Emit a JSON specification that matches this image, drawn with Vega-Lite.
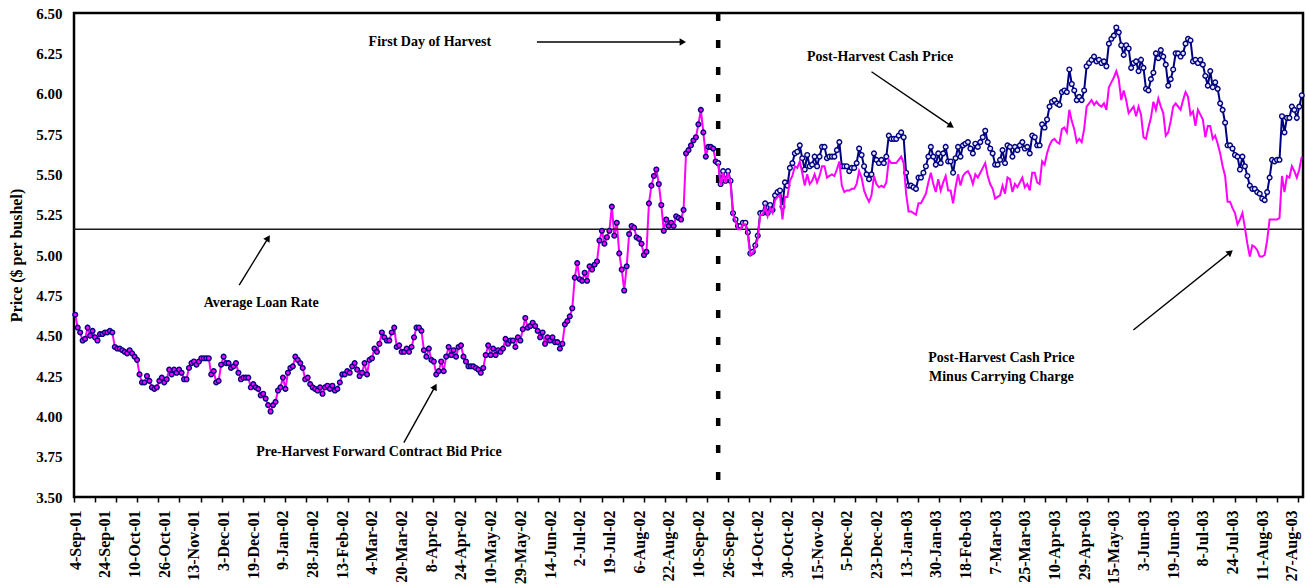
{
"$schema": "https://vega.github.io/schema/vega-lite/v6.json",
"width": 1229, "height": 484,
"autosize": {"type": "none"},
"padding": {"left": 74, "top": 13, "right": 4, "bottom": 87},
"background": "white",
"config": {"view": {"stroke": "black", "strokeWidth": 2.5}, "font": "Liberation Serif"},
"resolve": {"axis": {"x": "independent"}},
"datasets": {
"pre": [
{"n":0,"price":4.63},{"n":1,"price":4.55},{"n":2,"price":4.52},{"n":3,"price":4.47},{"n":4,"price":4.48},{"n":5,"price":4.55},{"n":6,"price":4.50},{"n":7,"price":4.53},{"n":8,"price":4.49},{"n":9,"price":4.47},
{"n":10,"price":4.51},{"n":11,"price":4.51},{"n":12,"price":4.52},{"n":13,"price":4.52},{"n":14,"price":4.53},{"n":15,"price":4.52},{"n":16,"price":4.43},{"n":17,"price":4.42},{"n":18,"price":4.42},{"n":19,"price":4.41},
{"n":20,"price":4.40},{"n":21,"price":4.39},{"n":22,"price":4.41},{"n":23,"price":4.39},{"n":24,"price":4.37},{"n":25,"price":4.35},{"n":26,"price":4.26},{"n":27,"price":4.21},{"n":28,"price":4.21},{"n":29,"price":4.25},
{"n":30,"price":4.22},{"n":31,"price":4.18},{"n":32,"price":4.17},{"n":33,"price":4.18},{"n":34,"price":4.22},{"n":35,"price":4.24},{"n":36,"price":4.21},{"n":37,"price":4.23},{"n":38,"price":4.29},{"n":39,"price":4.26},
{"n":40,"price":4.29},{"n":41,"price":4.27},{"n":42,"price":4.29},{"n":43,"price":4.27},{"n":44,"price":4.23},{"n":45,"price":4.23},{"n":46,"price":4.30},{"n":47,"price":4.33},{"n":48,"price":4.34},{"n":49,"price":4.32},
{"n":50,"price":4.34},{"n":51,"price":4.36},{"n":52,"price":4.36},{"n":53,"price":4.36},{"n":54,"price":4.36},{"n":55,"price":4.26},{"n":56,"price":4.28},{"n":57,"price":4.21},{"n":58,"price":4.22},{"n":59,"price":4.32},
{"n":60,"price":4.37},{"n":61,"price":4.33},{"n":62,"price":4.33},{"n":63,"price":4.30},{"n":64,"price":4.31},{"n":65,"price":4.33},{"n":66,"price":4.27},{"n":67,"price":4.23},{"n":68,"price":4.24},{"n":69,"price":4.24},
{"n":70,"price":4.24},{"n":71,"price":4.18},{"n":72,"price":4.20},{"n":73,"price":4.18},{"n":74,"price":4.17},{"n":75,"price":4.13},{"n":76,"price":4.14},{"n":77,"price":4.11},{"n":78,"price":4.07},{"n":79,"price":4.03},
{"n":80,"price":4.07},{"n":81,"price":4.09},{"n":82,"price":4.16},{"n":83,"price":4.18},{"n":84,"price":4.24},{"n":85,"price":4.17},{"n":86,"price":4.27},{"n":87,"price":4.30},{"n":88,"price":4.31},{"n":89,"price":4.37},
{"n":90,"price":4.35},{"n":91,"price":4.33},{"n":92,"price":4.30},{"n":93,"price":4.23},{"n":94,"price":4.24},{"n":95,"price":4.20},{"n":96,"price":4.18},{"n":97,"price":4.17},{"n":98,"price":4.16},{"n":99,"price":4.18},
{"n":100,"price":4.14},{"n":101,"price":4.18},{"n":102,"price":4.19},{"n":103,"price":4.17},{"n":104,"price":4.19},{"n":105,"price":4.16},{"n":106,"price":4.17},{"n":107,"price":4.21},{"n":108,"price":4.26},{"n":109,"price":4.26},
{"n":110,"price":4.28},{"n":111,"price":4.27},{"n":112,"price":4.31},{"n":113,"price":4.33},{"n":114,"price":4.29},{"n":115,"price":4.25},{"n":116,"price":4.27},{"n":117,"price":4.33},{"n":118,"price":4.26},{"n":119,"price":4.35},
{"n":120,"price":4.36},{"n":121,"price":4.42},{"n":122,"price":4.40},{"n":123,"price":4.45},{"n":124,"price":4.52},{"n":125,"price":4.49},{"n":126,"price":4.47},{"n":127,"price":4.47},{"n":128,"price":4.52},{"n":129,"price":4.55},
{"n":130,"price":4.43},{"n":131,"price":4.44},{"n":132,"price":4.40},{"n":133,"price":4.40},{"n":134,"price":4.42},{"n":135,"price":4.40},{"n":136,"price":4.43},{"n":137,"price":4.49},{"n":138,"price":4.55},{"n":139,"price":4.55},
{"n":140,"price":4.53},{"n":141,"price":4.41},{"n":142,"price":4.37},{"n":143,"price":4.42},{"n":144,"price":4.35},{"n":145,"price":4.34},{"n":146,"price":4.26},{"n":147,"price":4.28},{"n":148,"price":4.34},{"n":149,"price":4.28},
{"n":150,"price":4.37},{"n":151,"price":4.43},{"n":152,"price":4.38},{"n":153,"price":4.41},{"n":154,"price":4.37},{"n":155,"price":4.43},{"n":156,"price":4.44},{"n":157,"price":4.37},{"n":158,"price":4.34},{"n":159,"price":4.31},
{"n":160,"price":4.31},{"n":161,"price":4.31},{"n":162,"price":4.30},{"n":163,"price":4.29},{"n":164,"price":4.27},{"n":165,"price":4.30},{"n":166,"price":4.38},{"n":167,"price":4.44},{"n":168,"price":4.38},{"n":169,"price":4.42},
{"n":170,"price":4.38},{"n":171,"price":4.41},{"n":172,"price":4.40},{"n":173,"price":4.42},{"n":174,"price":4.48},{"n":175,"price":4.45},{"n":176,"price":4.47},{"n":177,"price":4.47},{"n":178,"price":4.43},{"n":179,"price":4.49},
{"n":180,"price":4.47},{"n":181,"price":4.54},{"n":182,"price":4.61},{"n":183,"price":4.55},{"n":184,"price":4.56},{"n":185,"price":4.58},{"n":186,"price":4.56},{"n":187,"price":4.53},{"n":188,"price":4.49},{"n":189,"price":4.52},
{"n":190,"price":4.45},{"n":191,"price":4.49},{"n":192,"price":4.47},{"n":193,"price":4.49},{"n":194,"price":4.46},{"n":195,"price":4.46},{"n":196,"price":4.42},{"n":197,"price":4.45},{"n":198,"price":4.57},{"n":199,"price":4.59},
{"n":200,"price":4.62},{"n":201,"price":4.67},{"n":202,"price":4.86},{"n":203,"price":4.95},{"n":204,"price":4.85},{"n":205,"price":4.84},{"n":206,"price":4.89},{"n":207,"price":4.84},{"n":208,"price":4.93},{"n":209,"price":4.91},
{"n":210,"price":4.94},{"n":211,"price":4.96},{"n":212,"price":5.09},{"n":213,"price":5.15},{"n":214,"price":5.07},{"n":215,"price":5.11},{"n":216,"price":5.15},{"n":217,"price":5.30},{"n":218,"price":5.12},{"n":219,"price":5.20},
{"n":220,"price":5.01},{"n":221,"price":4.91},{"n":222,"price":4.78},{"n":223,"price":4.93},{"n":224,"price":5.13},{"n":225,"price":5.18},{"n":226,"price":5.17},{"n":227,"price":5.11},{"n":228,"price":5.10},{"n":229,"price":5.07},
{"n":230,"price":5.00},{"n":231,"price":5.02},{"n":232,"price":5.32},{"n":233,"price":5.43},{"n":234,"price":5.49},{"n":235,"price":5.53},{"n":236,"price":5.44},{"n":237,"price":5.31},{"n":238,"price":5.15},{"n":239,"price":5.22},
{"n":240,"price":5.18},{"n":241,"price":5.20},{"n":242,"price":5.18},{"n":243,"price":5.24},{"n":244,"price":5.23},{"n":245,"price":5.22},{"n":246,"price":5.28},{"n":247,"price":5.63},{"n":248,"price":5.65},{"n":249,"price":5.68},
{"n":250,"price":5.71},{"n":251,"price":5.73},{"n":252,"price":5.81},{"n":253,"price":5.90},{"n":254,"price":5.76},{"n":255,"price":5.61},{"n":256,"price":5.67},{"n":257,"price":5.67},{"n":258,"price":5.66},{"n":259,"price":5.58},
{"n":260,"price":5.57}
],
"post": [
{"n":260,"cash":5.57,"net":5.57},{"n":261,"cash":5.44,"net":5.43},{"n":262,"cash":5.52,"net":5.51},{"n":263,"cash":5.46,"net":5.45},{"n":264,"cash":5.52,"net":5.51},{"n":265,"cash":5.46,"net":5.45},{"n":266,"cash":5.26,"net":5.25},{"n":267,"cash":5.22,"net":5.21},{"n":268,"cash":5.18,"net":5.16},{"n":269,"cash":5.18,"net":5.16},
{"n":270,"cash":5.20,"net":5.19},{"n":271,"cash":5.20,"net":5.19},{"n":272,"cash":5.14,"net":5.12},{"n":273,"cash":5.01,"net":5.00},{"n":274,"cash":5.02,"net":5.01},{"n":275,"cash":5.06,"net":5.05},{"n":276,"cash":5.12,"net":5.10},{"n":277,"cash":5.26,"net":5.25},{"n":278,"cash":5.26,"net":5.25},{"n":279,"cash":5.32,"net":5.30},
{"n":280,"cash":5.26,"net":5.24},{"n":281,"cash":5.31,"net":5.29},{"n":282,"cash":5.28,"net":5.26},{"n":283,"cash":5.37,"net":5.34},{"n":284,"cash":5.39,"net":5.36},{"n":285,"cash":5.40,"net":5.37},{"n":286,"cash":5.30,"net":5.22},{"n":287,"cash":5.45,"net":5.36},{"n":288,"cash":5.43,"net":5.36},{"n":289,"cash":5.54,"net":5.46},
{"n":290,"cash":5.57,"net":5.49},{"n":291,"cash":5.63,"net":5.55},{"n":292,"cash":5.64,"net":5.54},{"n":293,"cash":5.68,"net":5.58},{"n":294,"cash":5.60,"net":5.51},{"n":295,"cash":5.53,"net":5.43},{"n":296,"cash":5.62,"net":5.50},{"n":297,"cash":5.55,"net":5.44},{"n":298,"cash":5.56,"net":5.46},{"n":299,"cash":5.61,"net":5.50},
{"n":300,"cash":5.55,"net":5.45},{"n":301,"cash":5.61,"net":5.49},{"n":302,"cash":5.67,"net":5.55},{"n":303,"cash":5.67,"net":5.55},{"n":304,"cash":5.60,"net":5.48},{"n":305,"cash":5.61,"net":5.49},{"n":306,"cash":5.61,"net":5.50},{"n":307,"cash":5.61,"net":5.49},{"n":308,"cash":5.65,"net":5.53},{"n":309,"cash":5.70,"net":5.58},
{"n":310,"cash":5.55,"net":5.43},{"n":311,"cash":5.55,"net":5.39},{"n":312,"cash":5.55,"net":5.40},{"n":313,"cash":5.52,"net":5.40},{"n":314,"cash":5.54,"net":5.41},{"n":315,"cash":5.54,"net":5.41},{"n":316,"cash":5.57,"net":5.44},{"n":317,"cash":5.66,"net":5.52},{"n":318,"cash":5.62,"net":5.48},{"n":319,"cash":5.55,"net":5.40},
{"n":320,"cash":5.50,"net":5.36},{"n":321,"cash":5.47,"net":5.33},{"n":322,"cash":5.50,"net":5.37},{"n":323,"cash":5.63,"net":5.49},{"n":324,"cash":5.59,"net":5.44},{"n":325,"cash":5.57,"net":5.42},{"n":326,"cash":5.59,"net":5.43},{"n":327,"cash":5.57,"net":5.42},{"n":328,"cash":5.61,"net":5.45},{"n":329,"cash":5.74,"net":5.59},
{"n":330,"cash":5.72,"net":5.57},{"n":331,"cash":5.72,"net":5.57},{"n":332,"cash":5.72,"net":5.57},{"n":333,"cash":5.74,"net":5.59},{"n":334,"cash":5.76,"net":5.61},{"n":335,"cash":5.73,"net":5.57},{"n":336,"cash":5.51,"net":5.38},{"n":337,"cash":5.43,"net":5.27},{"n":338,"cash":5.43,"net":5.27},{"n":339,"cash":5.42,"net":5.26},
{"n":340,"cash":5.41,"net":5.25},{"n":341,"cash":5.48,"net":5.32},{"n":342,"cash":5.48,"net":5.32},{"n":343,"cash":5.51,"net":5.35},{"n":344,"cash":5.55,"net":5.38},{"n":345,"cash":5.61,"net":5.45},{"n":346,"cash":5.67,"net":5.51},{"n":347,"cash":5.61,"net":5.44},{"n":348,"cash":5.56,"net":5.39},{"n":349,"cash":5.63,"net":5.47},
{"n":350,"cash":5.57,"net":5.40},{"n":351,"cash":5.63,"net":5.45},{"n":352,"cash":5.67,"net":5.49},{"n":353,"cash":5.58,"net":5.40},{"n":354,"cash":5.58,"net":5.40},{"n":355,"cash":5.51,"net":5.32},{"n":356,"cash":5.60,"net":5.42},{"n":357,"cash":5.67,"net":5.50},{"n":358,"cash":5.61,"net":5.43},{"n":359,"cash":5.68,"net":5.49},
{"n":360,"cash":5.69,"net":5.51},{"n":361,"cash":5.70,"net":5.52},{"n":362,"cash":5.66,"net":5.49},{"n":363,"cash":5.63,"net":5.44},{"n":364,"cash":5.69,"net":5.50},{"n":365,"cash":5.67,"net":5.48},{"n":366,"cash":5.70,"net":5.51},{"n":367,"cash":5.73,"net":5.54},{"n":368,"cash":5.77,"net":5.57},{"n":369,"cash":5.70,"net":5.49},
{"n":370,"cash":5.66,"net":5.44},{"n":371,"cash":5.63,"net":5.41},{"n":372,"cash":5.56,"net":5.35},{"n":373,"cash":5.56,"net":5.36},{"n":374,"cash":5.59,"net":5.37},{"n":375,"cash":5.65,"net":5.43},{"n":376,"cash":5.57,"net":5.38},{"n":377,"cash":5.68,"net":5.48},{"n":378,"cash":5.67,"net":5.47},{"n":379,"cash":5.61,"net":5.39},
{"n":380,"cash":5.67,"net":5.44},{"n":381,"cash":5.65,"net":5.42},{"n":382,"cash":5.68,"net":5.45},{"n":383,"cash":5.70,"net":5.48},{"n":384,"cash":5.66,"net":5.42},{"n":385,"cash":5.67,"net":5.44},{"n":386,"cash":5.63,"net":5.40},{"n":387,"cash":5.74,"net":5.51},{"n":388,"cash":5.73,"net":5.51},{"n":389,"cash":5.68,"net":5.45},
{"n":390,"cash":5.68,"net":5.44},{"n":391,"cash":5.81,"net":5.58},{"n":392,"cash":5.79,"net":5.56},{"n":393,"cash":5.84,"net":5.63},{"n":394,"cash":5.92,"net":5.68},{"n":395,"cash":5.95,"net":5.71},{"n":396,"cash":5.96,"net":5.72},{"n":397,"cash":5.94,"net":5.70},{"n":398,"cash":5.93,"net":5.69},{"n":399,"cash":6.01,"net":5.78},
{"n":400,"cash":6.02,"net":5.79},{"n":401,"cash":6.01,"net":5.76},{"n":402,"cash":6.15,"net":5.90},{"n":403,"cash":6.06,"net":5.83},{"n":404,"cash":6.02,"net":5.78},{"n":405,"cash":5.96,"net":5.70},{"n":406,"cash":5.98,"net":5.72},{"n":407,"cash":5.96,"net":5.70},{"n":408,"cash":6.02,"net":5.78},{"n":409,"cash":6.17,"net":5.92},
{"n":410,"cash":6.19,"net":5.94},{"n":411,"cash":6.21,"net":5.96},{"n":412,"cash":6.23,"net":5.93},{"n":413,"cash":6.20,"net":5.95},{"n":414,"cash":6.21,"net":5.93},{"n":415,"cash":6.19,"net":5.92},{"n":416,"cash":6.20,"net":5.94},{"n":417,"cash":6.17,"net":5.90},{"n":418,"cash":6.31,"net":6.04},{"n":419,"cash":6.34,"net":6.07},
{"n":420,"cash":6.36,"net":6.10},{"n":421,"cash":6.41,"net":6.14},{"n":422,"cash":6.38,"net":6.09},{"n":423,"cash":6.30,"net":5.96},{"n":424,"cash":6.24,"net":6.02},{"n":425,"cash":6.30,"net":5.96},{"n":426,"cash":6.28,"net":5.88},{"n":427,"cash":6.16,"net":5.90},{"n":428,"cash":6.19,"net":5.92},{"n":429,"cash":6.20,"net":5.86},
{"n":430,"cash":6.14,"net":5.92},{"n":431,"cash":6.21,"net":5.87},{"n":432,"cash":6.16,"net":5.73},{"n":433,"cash":6.03,"net":5.72},{"n":434,"cash":6.02,"net":5.79},{"n":435,"cash":6.09,"net":5.85},{"n":436,"cash":6.13,"net":5.95},{"n":437,"cash":6.25,"net":5.90},{"n":438,"cash":6.22,"net":5.97},{"n":439,"cash":6.27,"net":5.92},
{"n":440,"cash":6.23,"net":5.88},{"n":441,"cash":6.18,"net":5.74},{"n":442,"cash":6.05,"net":5.76},{"n":443,"cash":6.09,"net":5.83},{"n":444,"cash":6.15,"net":5.92},{"n":445,"cash":6.25,"net":5.94},{"n":446,"cash":6.25,"net":5.92},{"n":447,"cash":6.23,"net":5.90},{"n":448,"cash":6.25,"net":5.96},{"n":449,"cash":6.31,"net":6.01},
{"n":450,"cash":6.34,"net":5.98},{"n":451,"cash":6.33,"net":5.87},{"n":452,"cash":6.20,"net":5.89},{"n":453,"cash":6.21,"net":5.80},{"n":454,"cash":6.19,"net":5.90},{"n":455,"cash":6.21,"net":5.87},{"n":456,"cash":6.18,"net":5.84},{"n":457,"cash":6.11,"net":5.73},{"n":458,"cash":6.05,"net":5.80},{"n":459,"cash":6.14,"net":5.80},
{"n":460,"cash":6.04,"net":5.72},{"n":461,"cash":6.07,"net":5.74},{"n":462,"cash":6.03,"net":5.69},{"n":463,"cash":5.94,"net":5.63},{"n":464,"cash":5.90,"net":5.55},{"n":465,"cash":5.82,"net":5.49},{"n":466,"cash":5.68,"net":5.33},{"n":467,"cash":5.68,"net":5.33},{"n":468,"cash":5.66,"net":5.29},{"n":469,"cash":5.62,"net":5.26},
{"n":470,"cash":5.61,"net":5.19},{"n":471,"cash":5.53,"net":5.22},{"n":472,"cash":5.61,"net":5.26},{"n":473,"cash":5.55,"net":5.17},{"n":474,"cash":5.49,"net":5.07},{"n":475,"cash":5.43,"net":4.99},{"n":476,"cash":5.41,"net":5.06},{"n":477,"cash":5.41,"net":5.05},{"n":478,"cash":5.39,"net":5.03},{"n":479,"cash":5.38,"net":4.99},
{"n":480,"cash":5.35,"net":4.99},{"n":481,"cash":5.34,"net":5.00},{"n":482,"cash":5.39,"net":5.09},{"n":483,"cash":5.48,"net":5.22},{"n":484,"cash":5.59,"net":5.22},{"n":485,"cash":5.58,"net":5.22},{"n":486,"cash":5.59,"net":5.22},{"n":487,"cash":5.59,"net":5.23},{"n":488,"cash":5.86,"net":5.49},{"n":489,"cash":5.76,"net":5.39},
{"n":490,"cash":5.85,"net":5.49},{"n":491,"cash":5.85,"net":5.48},{"n":492,"cash":5.92,"net":5.55},{"n":493,"cash":5.90,"net":5.52},{"n":494,"cash":5.85,"net":5.48},{"n":495,"cash":5.92,"net":5.53},{"n":496,"cash":5.99,"net":5.61}
],
"loan": [{"rate": 5.16}],
"harvest": [{"n": 260}],
"notes": [
{"label": "First Day of Harvest", "n": 143.4, "price": 6.32},
{"label": "Post-Harvest Cash Price", "n": 325.5, "price": 6.23},
{"label": "Average Loan Rate", "n": 75.2, "price": 4.70},
{"label": "Pre-Harvest Forward Contract Bid Price", "n": 122.8, "price": 3.78},
{"label": "Post-Harvest Cash Price\nMinus Carrying Charge", "n": 374.5, "price": 4.36}
],
"arrows": [
{"id": "harvest", "n": 186.7, "price": 6.32, "n2": 245.7, "price2": 6.32},
{"id": "cash", "n": 322.0, "price": 6.136, "n2": 354.2, "price2": 5.80},
{"id": "loan", "n": 66.3, "price": 4.814, "n2": 78.0, "price2": 5.105},
{"id": "pre", "n": 132.9, "price": 3.837, "n2": 145.5, "price2": 4.184},
{"id": "net", "n": 427.9, "price": 4.535, "n2": 467.1, "price2": 5.017}
]
},
"layer": [
{
"data": {"name": "pre"},
"mark": {"type": "line", "color": "#FF00FF", "strokeWidth": 2},
"encoding": {
"x": {"field": "n", "type": "quantitative", "scale": {"domain": [-0.5, 496.5], "nice": false, "zero": false},
"axis": {
"orient": "bottom",
"values": [0,12,24,36,48,60,72,84,96,108,120,132,144,156,168,180,192,204,216,228,240,252,264,276,288,300,312,324,336,348,360,372,384,396,408,420,432,444,456,468,480,492],
"labelExpr": "['4-Sep-01','24-Sep-01','10-Oct-01','26-Oct-01','13-Nov-01','3-Dec-01','19-Dec-01','9-Jan-02','28-Jan-02','13-Feb-02','4-Mar-02','20-Mar-02','8-Apr-02','24-Apr-02','10-May-02','29-May-02','14-Jun-02','2-Jul-02','19-Jul-02','6-Aug-02','22-Aug-02','10-Sep-02','26-Sep-02','14-Oct-02','30-Oct-02','15-Nov-02','5-Dec-02','23-Dec-02','13-Jan-03','30-Jan-03','18-Feb-03','7-Mar-03','25-Mar-03','10-Apr-03','29-Apr-03','15-May-03','3-Jun-03','19-Jun-03','8-Jul-03','24-Jul-03','11-Aug-03','27-Aug-03'][round(datum.value / 12)]",
"labelAngle": 270, "labelAlign": "right", "labelBaseline": "middle",
"labelFont": "Liberation Serif", "labelFontWeight": "bold", "labelFontSize": 16, "labelColor": "black",
"labelPadding": 13, "labelOverlap": false, "labelFlush": false, "labelBound": false,
"ticks": false, "domain": false, "grid": false, "title": null
}},
"y": {"field": "price", "type": "quantitative", "scale": {"domain": [3.5, 6.5], "nice": false, "zero": false},
"axis": {
"values": [3.5,3.75,4,4.25,4.5,4.75,5,5.25,5.5,5.75,6,6.25,6.5], "format": ".2f",
"labelFont": "Liberation Serif", "labelFontWeight": "bold", "labelFontSize": 15, "labelColor": "black",
"labelPadding": 12, "tickSize": 0, "domain": false, "grid": false,
"title": "Price ($ per bushel)", "titleFont": "Liberation Serif", "titleFontWeight": "bold", "titleFontSize": 16, "titleColor": "black", "titlePadding": 11
}}
}
},
{
"data": {"name": "loan"},
"mark": {"type": "rule", "color": "#1a1a1a", "strokeWidth": 1.6},
"encoding": {"y": {"field": "rate", "type": "quantitative", "scale": {"domain": [3.5, 6.5], "nice": false, "zero": false}}}
},
{
"data": {"name": "harvest"},
"mark": {"type": "rule", "color": "black", "strokeWidth": 4.5, "strokeDash": [8, 19]},
"encoding": {"x": {"field": "n", "type": "quantitative", "scale": {"domain": [-0.5, 496.5], "nice": false, "zero": false}, "axis": null}}
},
{
"data": {"name": "pre"},
"mark": {"type": "point", "shape": "circle", "filled": true, "fill": "#FF00FF", "stroke": "#000080", "strokeWidth": 1.4, "size": 22, "opacity": 1},
"encoding": {
"x": {"field": "n", "type": "quantitative", "scale": {"domain": [-0.5, 496.5], "nice": false, "zero": false},
"axis": {
"orient": "bottom",
"values": [-0.5,8.03,16.57,25.1,33.63,42.16,50.7,59.23,67.76,76.3,84.83,93.36,101.89,110.43,118.96,127.49,136.02,144.56,153.09,161.62,170.16,178.69,187.22,195.75,204.29,212.82,221.35,229.89,238.42,246.95,255.48,264.02,272.55,281.08,289.62,298.15,306.68,315.21,323.75,332.28,340.81,349.34,357.88,366.41,374.94,383.48,392.01,400.54,409.07,417.61,426.14,434.67,443.21,451.74,460.27,468.8,477.34,485.87,494.4],
"labels": false, "ticks": true, "tickSize": 5, "tickColor": "black", "tickWidth": 1.5,
"domain": false, "grid": false, "title": null
}},
"y": {"field": "price", "type": "quantitative", "scale": {"domain": [3.5, 6.5], "nice": false, "zero": false}}
}
},
{
"data": {"name": "post"},
"mark": {"type": "line", "color": "#000080", "strokeWidth": 2},
"encoding": {
"x": {"field": "n", "type": "quantitative", "scale": {"domain": [-0.5, 496.5], "nice": false, "zero": false}, "axis": null},
"y": {"field": "cash", "type": "quantitative", "scale": {"domain": [3.5, 6.5], "nice": false, "zero": false}}
}
},
{
"data": {"name": "post"},
"mark": {"type": "point", "shape": "circle", "filled": true, "fill": "#E8E8F8", "stroke": "#000080", "strokeWidth": 1.4, "size": 22, "opacity": 1},
"encoding": {
"x": {"field": "n", "type": "quantitative", "scale": {"domain": [-0.5, 496.5], "nice": false, "zero": false}, "axis": null},
"y": {"field": "cash", "type": "quantitative", "scale": {"domain": [3.5, 6.5], "nice": false, "zero": false}}
}
},
{
"data": {"name": "post"},
"mark": {"type": "line", "color": "#FF00FF", "strokeWidth": 2},
"encoding": {
"x": {"field": "n", "type": "quantitative", "scale": {"domain": [-0.5, 496.5], "nice": false, "zero": false}, "axis": null},
"y": {"field": "net", "type": "quantitative", "scale": {"domain": [3.5, 6.5], "nice": false, "zero": false}}
}
},
{
"data": {"name": "arrows"},
"mark": {"type": "rule", "color": "black", "strokeWidth": 1.4},
"encoding": {
"x": {"field": "n", "type": "quantitative", "scale": {"domain": [-0.5, 496.5], "nice": false, "zero": false}, "axis": null},
"y": {"field": "price", "type": "quantitative", "scale": {"domain": [3.5, 6.5], "nice": false, "zero": false}},
"x2": {"field": "n2"},
"y2": {"field": "price2"}
}
},
{
"data": {"name": "arrows"},
"transform": [{"filter": "datum.id == 'harvest'"}],
"mark": {"type": "point", "shape": "triangle-up", "filled": true, "color": "black", "size": 55, "angle": 90, "opacity": 1},
"encoding": {
"x": {"field": "n2", "type": "quantitative", "scale": {"domain": [-0.5, 496.5], "nice": false, "zero": false}, "axis": null},
"y": {"field": "price2", "type": "quantitative", "scale": {"domain": [3.5, 6.5], "nice": false, "zero": false}}
}
},
{
"data": {"name": "arrows"},
"transform": [{"filter": "datum.id == 'cash'"}],
"mark": {"type": "point", "shape": "triangle-up", "filled": true, "color": "black", "size": 55, "angle": 124, "opacity": 1},
"encoding": {
"x": {"field": "n2", "type": "quantitative", "scale": {"domain": [-0.5, 496.5], "nice": false, "zero": false}, "axis": null},
"y": {"field": "price2", "type": "quantitative", "scale": {"domain": [3.5, 6.5], "nice": false, "zero": false}}
}
},
{
"data": {"name": "arrows"},
"transform": [{"filter": "datum.id == 'loan'"}],
"mark": {"type": "point", "shape": "triangle-up", "filled": true, "color": "black", "size": 55, "angle": 32, "opacity": 1},
"encoding": {
"x": {"field": "n2", "type": "quantitative", "scale": {"domain": [-0.5, 496.5], "nice": false, "zero": false}, "axis": null},
"y": {"field": "price2", "type": "quantitative", "scale": {"domain": [3.5, 6.5], "nice": false, "zero": false}}
}
},
{
"data": {"name": "arrows"},
"transform": [{"filter": "datum.id == 'pre'"}],
"mark": {"type": "point", "shape": "triangle-up", "filled": true, "color": "black", "size": 55, "angle": 29, "opacity": 1},
"encoding": {
"x": {"field": "n2", "type": "quantitative", "scale": {"domain": [-0.5, 496.5], "nice": false, "zero": false}, "axis": null},
"y": {"field": "price2", "type": "quantitative", "scale": {"domain": [3.5, 6.5], "nice": false, "zero": false}}
}
},
{
"data": {"name": "arrows"},
"transform": [{"filter": "datum.id == 'net'"}],
"mark": {"type": "point", "shape": "triangle-up", "filled": true, "color": "black", "size": 55, "angle": 51, "opacity": 1},
"encoding": {
"x": {"field": "n2", "type": "quantitative", "scale": {"domain": [-0.5, 496.5], "nice": false, "zero": false}, "axis": null},
"y": {"field": "price2", "type": "quantitative", "scale": {"domain": [3.5, 6.5], "nice": false, "zero": false}}
}
},
{
"data": {"name": "notes"},
"mark": {"type": "text", "font": "Liberation Serif", "fontWeight": "bold", "fontSize": 14, "color": "black", "align": "center", "baseline": "middle", "lineBreak": "\n", "lineHeight": 18.5},
"encoding": {
"x": {"field": "n", "type": "quantitative", "scale": {"domain": [-0.5, 496.5], "nice": false, "zero": false}, "axis": null},
"y": {"field": "price", "type": "quantitative", "scale": {"domain": [3.5, 6.5], "nice": false, "zero": false}},
"text": {"field": "label"}
}
}
]
}
